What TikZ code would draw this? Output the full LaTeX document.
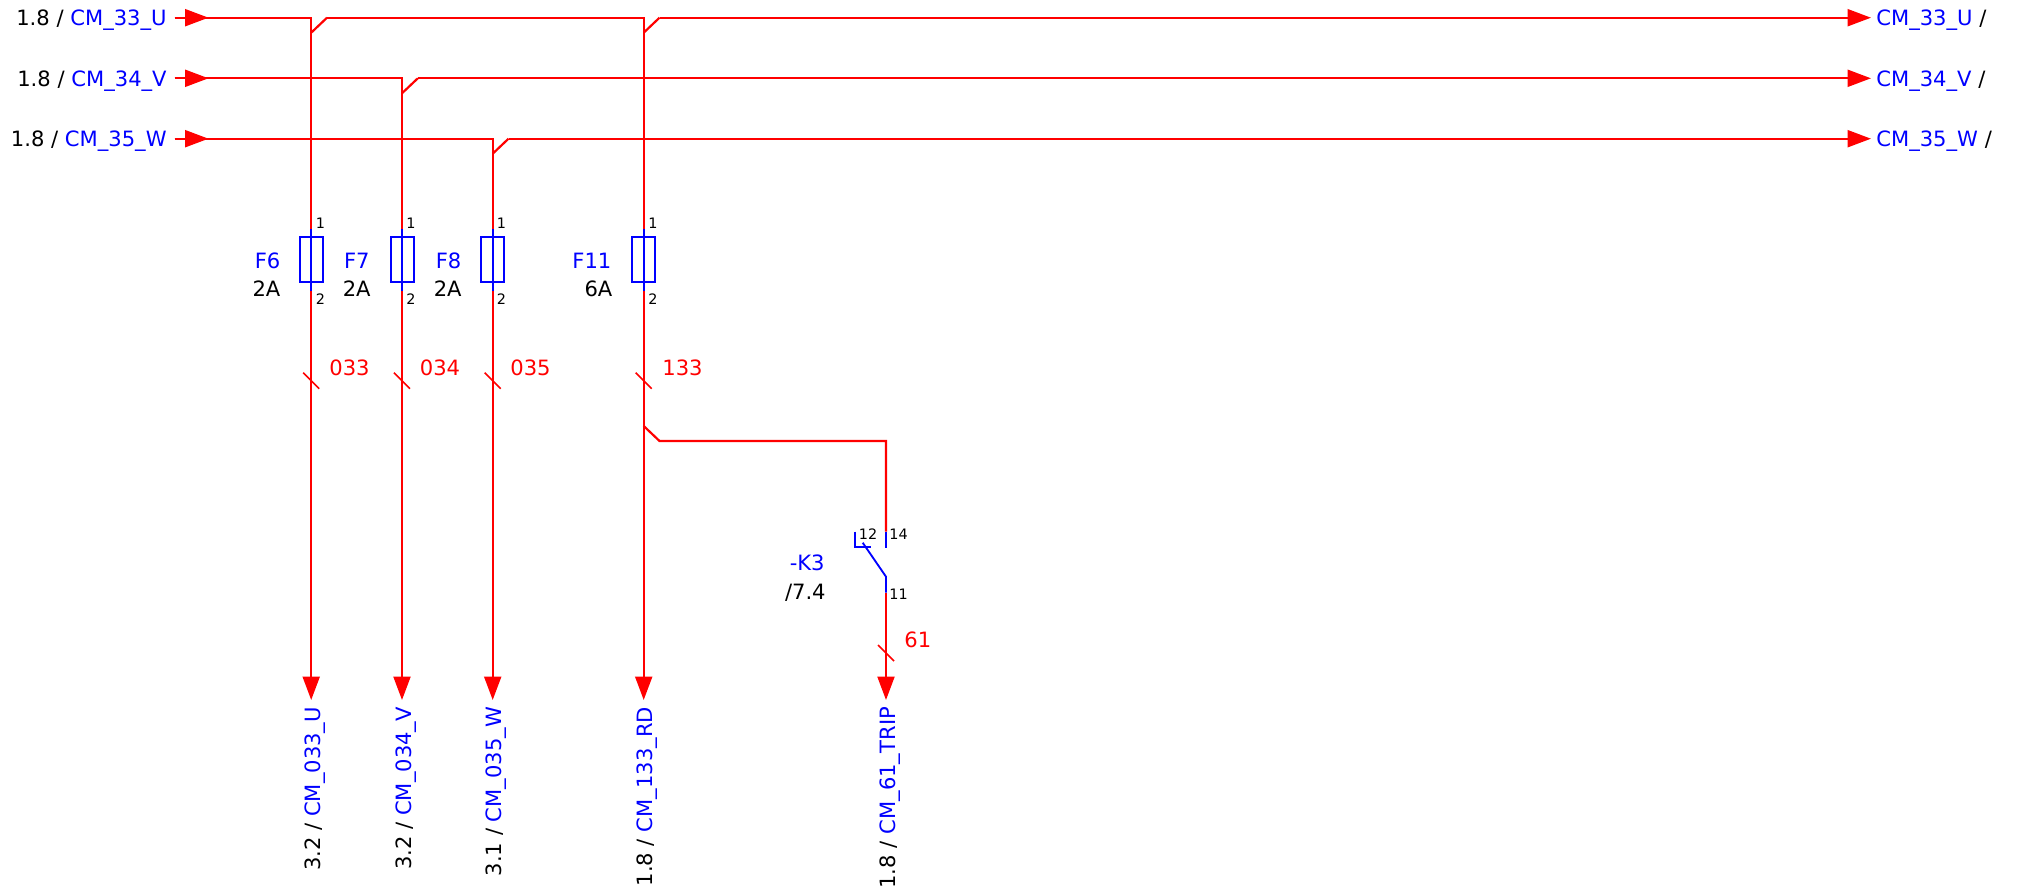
\documentclass[tikz,border=0pt]{standalone}
\usepackage{fontspec}
\setmainfont{DejaVu Sans}
\usetikzlibrary{arrows.meta}
\tikzset{
  wire/.style={draw=red, line width=1.25pt},
  wirearrow/.style={wire, -{Triangle[length=0.47cm, width=0.34cm]}},
  slash/.style={draw=red, line width=0.9pt},
  part/.style={draw=blue, line width=1.05pt},
  fuse/.style={rectangle, draw=blue, line width=1.05pt, minimum width=0.46cm, minimum height=0.91cm, inner sep=0},
  txt/.style={inner sep=0, font=\fontsize{12}{14}\selectfont},
  pin/.style={inner sep=0, font=\fontsize{8.2}{10}\selectfont, anchor=base west},
  tag/.style={txt, text=blue, anchor=base east},
  rating/.style={txt, anchor=base east},
  wireno/.style={txt, text=red, anchor=base west},
  sheet/.style={txt, rotate=90, anchor=base east}
}
\newcommand{\xref}[1]{\textcolor{blue}{#1}}
\begin{document}
\begin{tikzpicture}
  \useasboundingbox (0, 0) rectangle (40.34, -17.9);
  % Nodes
  \node (inu) [txt, anchor=base east] at (3.34, -0.52) {1.8 / \xref{CM\_33\_U}};
  \node (inv) [txt, anchor=base east] at (3.34, -1.733) {1.8 / \xref{CM\_34\_V}};
  \node (inw) [txt, anchor=base east] at (3.34, -2.934) {1.8 / \xref{CM\_35\_W}};
  \node (outu) [txt, anchor=base west] at (37.52, -0.52) {\xref{CM\_33\_U} /};
  \node (outv) [txt, anchor=base west] at (37.52, -1.733) {\xref{CM\_34\_V} /};
  \node (outw) [txt, anchor=base west] at (37.52, -2.934) {\xref{CM\_35\_W} /};
  \node (f6) [fuse] at (6.224, -5.19) {};
  \node (f7) [fuse] at (8.05, -5.19) {};
  \node (f8) [fuse] at (9.854, -5.19) {};
  \node (f11) [fuse] at (12.874, -5.19) {};
  \node (f6tag) [tag] at (5.614, -5.36) {F6};
  \node (f7tag) [tag] at (7.4, -5.36) {F7};
  \node (f8tag) [tag] at (9.234, -5.36) {F8};
  \node (f11tag) [tag] at (12.234, -5.36) {F11};
  \node (f6a) [rating] at (5.614, -5.934) {2A};
  \node (f7a) [rating] at (7.42, -5.934) {2A};
  \node (f8a) [rating] at (9.24, -5.934) {2A};
  \node (f11a) [rating] at (12.254, -5.934) {6A};
  \node (f6p1) [pin] at (6.31, -4.58) {1};
  \node (f7p1) [pin] at (8.12, -4.58) {1};
  \node (f8p1) [pin] at (9.93, -4.58) {1};
  \node (f11p1) [pin] at (12.96, -4.58) {1};
  \node (f6p2) [pin] at (6.31, -6.086) {2};
  \node (f7p2) [pin] at (8.12, -6.086) {2};
  \node (f8p2) [pin] at (9.93, -6.086) {2};
  \node (f11p2) [pin] at (12.96, -6.086) {2};
  \node (w033) [wireno] at (6.58, -7.514) {033};
  \node (w034) [wireno] at (8.39, -7.514) {034};
  \node (w035) [wireno] at (10.2, -7.514) {035};
  \node (w133) [wireno] at (13.24, -7.514) {133};
  \node (w61) [wireno] at (18.08, -12.946) {61};
  \node (k3tag) [tag] at (16.5, -11.414) {-K3};
  \node (k3ref) [rating] at (16.52, -11.986) {/7.4};
  \node (k3p12) [pin] at (17.17, -10.78) {12};
  \node (k3p14) [pin] at (17.78, -10.78) {14};
  \node (k3p11) [pin] at (17.78, -11.98) {11};
  \node (s033) [sheet] at (6.416, -14.134) {3.2 / \xref{CM\_033\_U}};
  \node (s034) [sheet] at (8.234, -14.134) {3.2 / \xref{CM\_034\_V}};
  \node (s035) [sheet] at (10.036, -14.134) {3.1 / \xref{CM\_035\_W}};
  \node (s133) [sheet] at (13.058, -14.134) {1.8 / \xref{CM\_133\_RD}};
  \node (s61) [sheet] at (17.9, -14.134) {1.8 / \xref{CM\_61\_TRIP}};
  % Points
  \coordinate (u0) at (3.49, -0.354);
  \coordinate (u1) at (4.17, -0.354);
  \coordinate (u2) at (6.224, -0.354);
  \coordinate (u3) at (6.54, -0.354);
  \coordinate (u4) at (12.874, -0.354);
  \coordinate (u5) at (13.19, -0.354);
  \coordinate (u6) at (37.42, -0.354);
  \coordinate (v0) at (3.49, -1.566);
  \coordinate (v1) at (4.17, -1.566);
  \coordinate (v2) at (8.04, -1.566);
  \coordinate (v3) at (8.356, -1.566);
  \coordinate (v4) at (37.42, -1.566);
  \coordinate (w0) at (3.49, -2.774);
  \coordinate (w1) at (4.17, -2.774);
  \coordinate (w2) at (9.854, -2.774);
  \coordinate (w3) at (10.17, -2.774);
  \coordinate (w4) at (37.42, -2.774);
  \coordinate (f6t) at (6.224, -4.58);
  \coordinate (f6b) at (6.224, -5.814);
  \coordinate (f7t) at (8.04, -4.58);
  \coordinate (f7b) at (8.04, -5.814);
  \coordinate (f8t) at (9.854, -4.58);
  \coordinate (f8b) at (9.854, -5.814);
  \coordinate (f11t) at (12.874, -4.58);
  \coordinate (f11b) at (12.874, -5.814);
  \coordinate (e033) at (6.224, -14);
  \coordinate (e034) at (8.04, -14);
  \coordinate (e035) at (9.854, -14);
  \coordinate (e133) at (12.874, -14);
  \coordinate (e61) at (17.72, -14);
  \coordinate (b0) at (12.874, -8.52);
  \coordinate (b1) at (13.19, -8.82);
  \coordinate (b2) at (17.72, -8.82);
  \coordinate (c14t) at (17.72, -10.634);
  \coordinate (c14b) at (17.72, -10.954);
  \coordinate (c11t) at (17.72, -11.534);
  \coordinate (c11b) at (17.72, -11.854);
  \coordinate (c12) at (17.254, -10.854);
  \coordinate (c0) at (17.106, -10.634);
  \coordinate (c1) at (17.106, -10.946);
  \coordinate (c2) at (17.414, -10.946);
  % Arrow
  \draw[wire] (u0) -- (u2) -- (f6t);
  \draw[wirearrow] (u0) -- (u1);
  \draw[wire] (u3) -- +(-0.316, -0.3);
  \draw[wire] (u3) -- (u4) -- (f11t);
  \draw[wire] (u5) -- +(-0.316, -0.3);
  \draw[wirearrow] (u5) -- (u6);
  \draw[wire] (v0) -- (v2) -- (f7t);
  \draw[wirearrow] (v0) -- (v1);
  \draw[wire] (v3) -- +(-0.316, -0.3);
  \draw[wirearrow] (v3) -- (v4);
  \draw[wire] (w0) -- (w2) -- (f8t);
  \draw[wirearrow] (w0) -- (w1);
  \draw[wire] (w3) -- +(-0.316, -0.3);
  \draw[wirearrow] (w3) -- (w4);
  \draw[wirearrow] (f6b) -- (e033);
  \draw[wirearrow] (f7b) -- (e034);
  \draw[wirearrow] (f8b) -- (e035);
  \draw[wirearrow] (f11b) -- (e133);
  \draw[wire] (b0) -- (b1) -- (b2) -- (c14t);
  \draw[wirearrow] (c11b) -- (e61);
  % Fuses and contact
  \draw[part] (f6t) -- (f6b);
  \draw[part] (f7t) -- (f7b);
  \draw[part] (f8t) -- (f8b);
  \draw[part] (f11t) -- (f11b);
  \draw[part] (c14t) -- (c14b);
  \draw[part] (c11b) -- (c11t) -- (c12);
  \draw[part] (c0) -- (c1) -- (c2);
  % Slashes
  \draw[slash] (6.224, -7.614) +(-0.16, 0.16) -- +(0.16, -0.16);
  \draw[slash] (8.04, -7.614) +(-0.16, 0.16) -- +(0.16, -0.16);
  \draw[slash] (9.854, -7.614) +(-0.16, 0.16) -- +(0.16, -0.16);
  \draw[slash] (12.874, -7.614) +(-0.16, 0.16) -- +(0.16, -0.16);
  \draw[slash] (17.72, -13.06) +(-0.16, 0.16) -- +(0.16, -0.16);
\end{tikzpicture}
\end{document}
